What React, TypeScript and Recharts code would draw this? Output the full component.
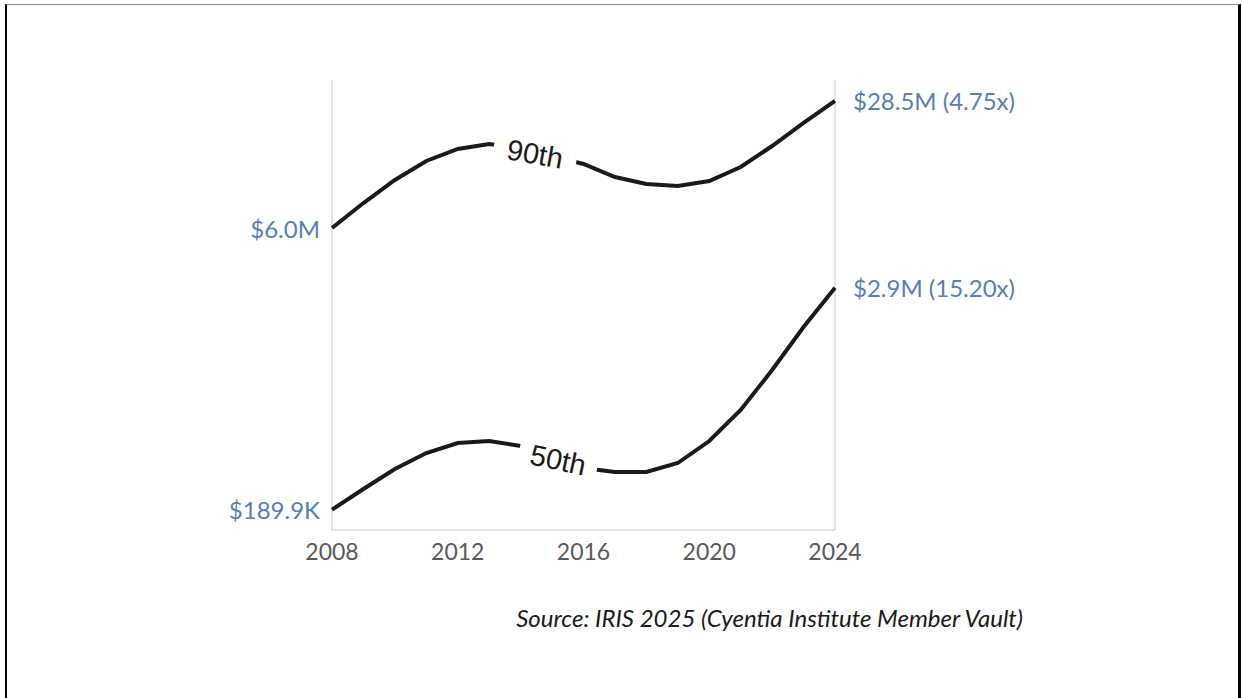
import { LineChart, Line, XAxis, YAxis, LabelList, ReferenceLine } from "recharts";

const YEARS = [2008, 2009, 2010, 2011, 2012, 2013, 2014, 2015, 2016, 2017, 2018, 2019, 2020, 2021, 2022, 2023, 2024];

// 90th percentile loss, USD
const P90 = [
  6.0e6, 8.15e6, 10.81e6, 13.65e6, 15.81e6, 16.81e6, 16.0e6, 14.51e6, 13.15e6,
  11.21e6, 10.29e6, 10.04e6, 10.68e6, 12.68e6, 16.4e6, 21.75e6, 28.5e6,
];

// 50th percentile (median) loss, USD
const P50 = [
  189.9e3, 244.6e3, 312.5e3, 380.4e3, 430.0e3, 440.6e3, 414.4e3, 357.7e3, 316.4e3,
  301.3e3, 301.3e3, 336.4e3, 440.6e3, 644.4e3, 1.052e6, 1.783e6, 2.88648e6,
];

const X_TICKS = [2008, 2012, 2016, 2020, 2024];
const Y_DOMAIN = [148000, 36840000];
const SOURCE = "Source: IRIS 2025 (Cyentia Institute Member Vault)";

const data = YEARS.map((year, i) => ({ year, p90: P90[i], p50: P50[i] }));

const UI_FONT = "Lato, 'Noto Sans', sans-serif";
const LABEL_BLUE = "#5a7eae";
const AXIS_GREY = "#c8c8c8";
const LINE_COLOR = "#1a1a1a";

const fmtMoney = (v: number) =>
  v >= 1e6 ? `$${(v / 1e6).toFixed(1)}M` : `$${(v / 1e3).toFixed(1)}K`;

// start value on the left, end value plus growth multiple on the right
function endLabels(series: number[]) {
  return (props: any) => {
    const { x, y, index } = props;
    if (index === 0) {
      return (
        <text x={x - 12} y={y} textAnchor="end" dominantBaseline="central"
          fill={LABEL_BLUE} fontSize={24} fontFamily={UI_FONT}>
          {fmtMoney(series[0])}
        </text>
      );
    }
    if (index === series.length - 1) {
      const mult = series[index] / series[0];
      return (
        <text x={x + 18} y={y} textAnchor="start" dominantBaseline="central"
          fill={LABEL_BLUE} fontSize={24} fontFamily={UI_FONT}>
          {`${fmtMoney(series[index])} (${mult.toFixed(2)}x)`}
        </text>
      );
    }
    return null;
  };
}

// in-line series name, knocks a gap out of the line behind it
function inlineName(name: string, atIndex: number, dx: number, dy: number, angle: number, gap: number) {
  return (props: any) => {
    const { x, y, index } = props;
    if (index !== atIndex) return null;
    return (
      <g transform={`translate(${x + dx},${y + dy}) rotate(${angle})`}>
        <rect x={-gap / 2} y={-16} width={gap} height={32} fill="#fff" />
        <text x={0} y={0} textAnchor="middle" dominantBaseline="central"
          fill={LINE_COLOR} fontSize={29} fontFamily="'Liberation Sans', Arial, sans-serif">
          {name}
        </text>
      </g>
    );
  };
}

export default function App() {
  return (
    <div style={{ position: "absolute", left: 0, top: 0, width: 1242, height: 698, background: "#fff", overflow: "hidden" }}>
      <div style={{
        position: "absolute", left: 5, top: 4, width: 1231, height: 720,
        borderTop: "1px solid #8c8c8c", borderLeft: "2px solid #000", borderRight: "3px solid #000",
      }} />
      <LineChart width={1242} height={698} data={data}
        margin={{ top: 80, right: 407, bottom: 138, left: 332 }}>
        <XAxis dataKey="year" type="number" domain={[2008, 2024]} ticks={X_TICKS}
          height={30} tickLine={false} axisLine={{ stroke: AXIS_GREY }}
          tick={{ fill: "#595959", fontSize: 23, fontFamily: UI_FONT }} tickMargin={8} />
        <YAxis yAxisId="left" scale="log" domain={Y_DOMAIN} allowDataOverflow hide />
        <ReferenceLine yAxisId="left" x={2008} stroke={AXIS_GREY} strokeWidth={1} />
        <ReferenceLine yAxisId="left" x={2024} stroke={AXIS_GREY} strokeWidth={1} />
        <Line yAxisId="left" dataKey="p90" type="linear" stroke={LINE_COLOR} strokeWidth={4}
          dot={false} isAnimationActive={false}>
          <LabelList dataKey="p90" content={inlineName("90th", 7, -17, -2, 10, 84)} />
          <LabelList dataKey="p90" content={endLabels(P90)} />
        </Line>
        <Line yAxisId="left" dataKey="p50" type="linear" stroke={LINE_COLOR} strokeWidth={4}
          dot={false} isAnimationActive={false}>
          <LabelList dataKey="p50" content={inlineName("50th", 7, 6, 2, 12, 80)} />
          <LabelList dataKey="p50" content={endLabels(P50)} />
        </Line>
      </LineChart>
      <div style={{
        position: "absolute", left: 0, top: 604, width: 1023, textAlign: "right",
        fontFamily: UI_FONT, fontStyle: "italic", fontSize: 24, lineHeight: "28px", color: "#1a1a1a",
      }}>
        {SOURCE}
      </div>
    </div>
  );
}
